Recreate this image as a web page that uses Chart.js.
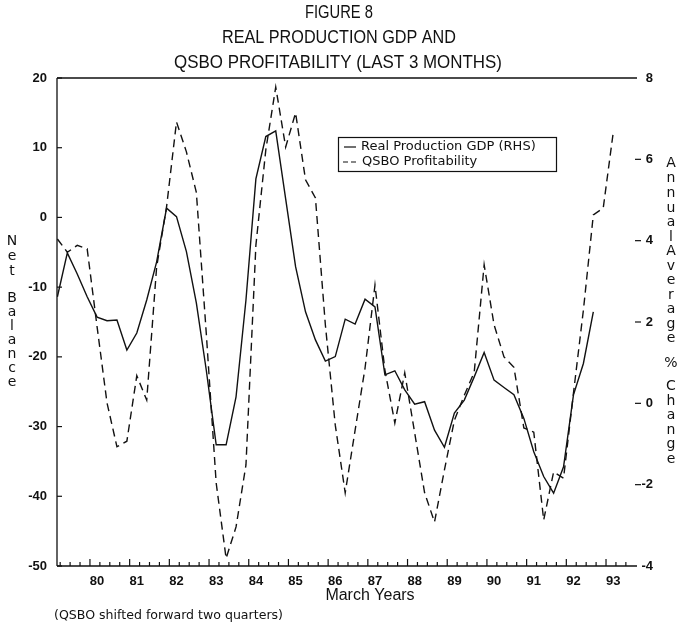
<!DOCTYPE html>
<html>
<head>
<meta charset="utf-8">
<script src="https://cdn.jsdelivr.net/npm/chart.js@4.4.1/dist/chart.umd.min.js"></script>
<style>
  html, body { margin: 0; padding: 0; background: #fff; }
  canvas { display: block; }
</style>
</head>
<body>
<canvas id="fig8" width="682" height="629"></canvas>
<script>
// Quarterly observations, first point = March 1979 ("March Years")
const firstYear = 79;
const yearLabels = ['80', '81', '82', '83', '84', '85', '86', '87', '88', '89', '90', '91', '92', '93'];
const leftTicks = [20, 10, 0, -10, -20, -30, -40, -50];
const rightTicks = [8, 6, 4, 2, 0, -2, -4];

// Real production GDP, annual average % change (RHS)
const gdpGrowth = [
  2.62, 3.70, 3.18, 2.62, 2.12, 2.03, 2.05, 1.31, 1.73, 2.54,
  3.48, 4.80, 4.59, 3.73, 2.47, 0.82, -1.02, -1.02, 0.16, 2.54,
  5.52, 6.56, 6.70, 5.03, 3.36, 2.25, 1.56, 1.04, 1.15, 2.07,
  1.95, 2.56, 2.37, 0.70, 0.80, 0.33, -0.02, 0.04, -0.66, -1.08,
  -0.24, 0.08, 0.65, 1.25, 0.57, 0.39, 0.21, -0.37, -1.19, -1.80,
  -2.21, -1.56, 0.21, 0.98, 2.25
];

// QSBO profitability net balance (LHS), shifted forward two quarters
const qsboBalance = [
  -3.1, -5.0, -4.0, -4.5, -15.7, -26.6, -32.9, -32.1, -22.7, -26.2,
  -7.1, 1.5, 13.7, 9.4, 3.6, -16.6, -38.1, -48.9, -44.4, -35.5,
  -4.0, 9.7, 18.7, 10.1, 15.0, 5.4, 2.8, -15.4, -29.8, -39.5,
  -30.5, -21.6, -9.7, -21.9, -29.5, -22.3, -30.9, -39.5, -43.7, -36.2,
  -29.1, -25.5, -22.2, -6.8, -15.4, -20.0, -21.5, -30.2, -30.8, -43.4,
  -36.5, -37.4, -25.2, -13.3, 0.35, 1.35, 12.1
];

const toPoints = (vals) => vals.map((v, i) => ({ x: firstYear + i / 4, y: v }));

const INK = '#111';

const txt = (ctx, s, x, y, font, align, maxW) => {
  ctx.font = font;
  ctx.textAlign = align || 'center';
  ctx.textBaseline = 'middle';
  ctx.fillStyle = INK;
  if (maxW) ctx.fillText(s, x, y, maxW); else ctx.fillText(s, x, y);
};

const stacked = (ctx, words, x, positions, font) => {
  const letters = words.join('').split('');
  letters.forEach((ch, i) => txt(ctx, ch, x, positions[i], font));
};

const framePlugin = {
  id: 'frame',
  beforeDraw(chart) {
    const ctx = chart.ctx;
    ctx.save();
    ctx.fillStyle = '#fff';
    ctx.fillRect(0, 0, chart.width, chart.height);
    ctx.restore();
  },
  afterDraw(chart) {
    const { ctx, chartArea: a, scales } = chart;
    const x = scales.x, yl = scales.yLeft, yr = scales.yRight;
    ctx.save();
    ctx.strokeStyle = INK;
    ctx.lineWidth = 1.3;

    // frame: left, top, bottom (no right line in the original)
    ctx.beginPath();
    ctx.moveTo(a.left, a.top); ctx.lineTo(a.left, a.bottom);
    ctx.moveTo(a.left, a.top); ctx.lineTo(a.right + 2, a.top);
    ctx.moveTo(a.left, a.bottom); ctx.lineTo(a.right + 2, a.bottom);
    ctx.stroke();

    // left ticks + labels
    ctx.lineWidth = 1.2;
    leftTicks.forEach(v => {
      const py = yl.getPixelForValue(v);
      ctx.beginPath(); ctx.moveTo(a.left, py); ctx.lineTo(a.left + 5, py); ctx.stroke();
      txt(ctx, String(v), 47, py, 'bold 13px "Liberation Sans", Arial, sans-serif', 'right');
    });

    // right ticks + labels
    rightTicks.forEach(v => {
      const py = yr.getPixelForValue(v);
      if (v !== 8 && v !== -4) {
        ctx.beginPath(); ctx.moveTo(a.right, py); ctx.lineTo(a.right + 6, py); ctx.stroke();
      }
      txt(ctx, String(v), 653, py, 'bold 13px "Liberation Sans", Arial, sans-serif', 'right');
    });

    // bottom ticks: every quarter, longer at each year
    for (let yr0 = firstYear; yr0 <= 94; yr0++) {
      for (let q = 0; q < 4; q++) {
        const v = yr0 - 0.18 + q * 0.25;
        if (v <= x.min || v >= x.max) continue;
        const px = x.getPixelForValue(v);
        const len = q === 0 ? 7 : 4;
        ctx.beginPath(); ctx.moveTo(px, a.bottom); ctx.lineTo(px, a.bottom - len); ctx.stroke();
      }
    }
    yearLabels.forEach(lbl => {
      const px = x.getPixelForValue(Number(lbl));
      txt(ctx, lbl, px, 581, 'bold 13px "Liberation Sans", Arial, sans-serif', 'center', 15);
    });

    // titles
    const tf = '18px "Liberation Sans", Arial, sans-serif';
    txt(ctx, 'FIGURE 8', 339, 13, tf, 'center', 68);
    txt(ctx, 'REAL PRODUCTION GDP AND', 339, 38, tf, 'center', 234);
    txt(ctx, 'QSBO PROFITABILITY (LAST 3 MONTHS)', 338, 63, tf, 'center', 328);

    txt(ctx, 'March Years', 370, 596, '16px "Liberation Sans", Arial, sans-serif', 'center', 97);
    txt(ctx, '(QSBO shifted forward two quarters)', 54, 616, '13px "DejaVu Sans", sans-serif', 'left', 229);

    // stacked axis titles
    const lf = '14px "DejaVu Sans", sans-serif';
    stacked(ctx, ['Net', 'Balance'], 12, [241, 256, 271, 298, 312, 326, 340, 354, 368, 382], lf);
    stacked(ctx, ['Annual', 'Average', '%', 'Change'], 671,
      [163, 178, 193, 208, 222, 237, 251, 266, 280, 295, 309, 324, 338, 363, 386, 401, 415, 430, 444, 459], lf);

    // legend box
    ctx.lineWidth = 1.2;
    ctx.strokeRect(338.5, 137.5, 218, 34);
    ctx.beginPath(); ctx.moveTo(344, 147); ctx.lineTo(356, 147); ctx.stroke();
    ctx.setLineDash([5, 3]);
    ctx.beginPath(); ctx.moveTo(343, 162); ctx.lineTo(357, 162); ctx.stroke();
    ctx.setLineDash([]);
    const gf = '13px "DejaVu Sans", sans-serif';
    txt(ctx, 'Real Production GDP (RHS)', 361, 147, gf, 'left', 190);
    txt(ctx, 'QSBO Profitability', 362, 162, gf, 'left', 137);
    ctx.restore();
  }
};

new Chart(document.getElementById('fig8'), {
  type: 'line',
  data: {
    datasets: [
      {
        label: 'Real Production GDP (RHS)',
        data: toPoints(gdpGrowth),
        yAxisID: 'yRight',
        borderColor: INK,
        borderWidth: 1.4,
        pointRadius: 0,
        tension: 0
      },
      {
        label: 'QSBO Profitability',
        data: toPoints(qsboBalance),
        yAxisID: 'yLeft',
        borderColor: INK,
        borderWidth: 1.4,
        borderDash: [8, 5],
        pointRadius: 0,
        tension: 0
      }
    ]
  },
  options: {
    responsive: false,
    animation: false,
    events: [],
    layout: { padding: { left: 57, right: 47, top: 78, bottom: 63 } },
    plugins: {
      legend: { display: false },
      title: { display: false },
      tooltip: { enabled: false }
    },
    scales: {
      x: { type: 'linear', min: 78.99, max: 93.55, display: false },
      yLeft: { type: 'linear', position: 'left', min: -50, max: 20, display: false },
      yRight: { type: 'linear', position: 'right', min: -4, max: 8, display: false }
    }
  },
  plugins: [framePlugin]
});
</script>
</body>
</html>
